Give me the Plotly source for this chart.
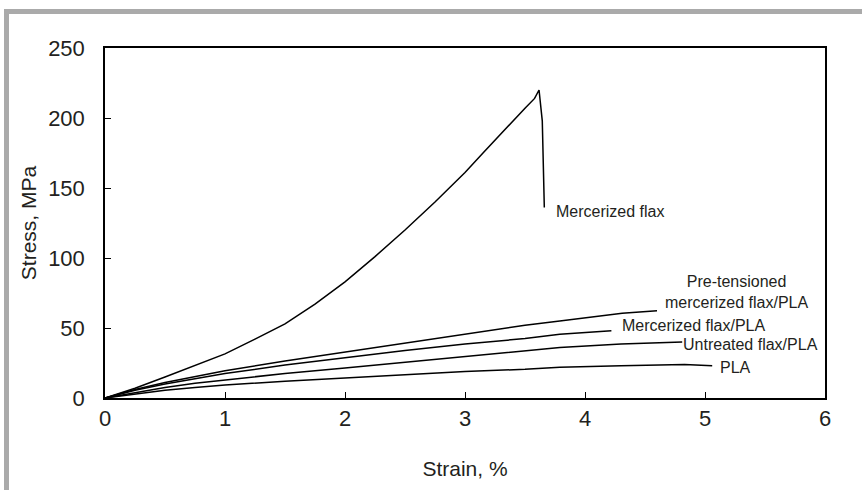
import plotly.graph_objects as go

# Mercerized flax
mf_strain = [0, 0.25, 0.5, 0.75, 1.0, 1.25, 1.5, 1.75, 2.0, 2.25, 2.5, 2.75, 3.0, 3.15, 3.29, 3.4, 3.5, 3.58, 3.617, 3.644, 3.661]
mf_stress = [0, 7, 15, 23, 31.5, 42, 53, 67, 83, 101, 120, 140, 161, 175, 188, 198, 207, 214, 220, 198, 136]

# Pre-tensioned mercerized flax/PLA
pt_strain = [0, 0.25, 0.5, 0.75, 1.0, 1.5, 2.0, 2.5, 3.0, 3.5, 3.79, 4.31, 4.6]
pt_stress = [0, 6, 11, 15.5, 19.5, 26.5, 33, 39.5, 46, 52, 55, 60.5, 62.4]

# Mercerized flax/PLA
mp_strain = [0, 0.25, 0.5, 0.75, 1.0, 1.5, 2.0, 2.5, 3.0, 3.5, 3.79, 4.22]
mp_stress = [0, 5.5, 10, 14, 17.5, 23.5, 29, 34, 38.5, 42.5, 45.5, 48]

# Untreated flax/PLA
up_strain = [0, 0.25, 0.5, 0.75, 1.0, 1.5, 2.0, 2.5, 3.0, 3.5, 3.79, 4.3, 4.81]
up_stress = [0, 4, 7.5, 10.5, 13, 17.5, 21.5, 25.5, 29.5, 33.5, 36, 38.5, 40]

# PLA
pla_strain = [0, 0.25, 0.5, 0.75, 1.0, 1.5, 2.0, 2.5, 3.0, 3.5, 3.79, 4.3, 4.83, 5.06]
pla_stress = [0, 3, 5.5, 7.5, 9.3, 12, 14.5, 17, 19, 20.5, 22, 23, 24, 23]

labels = ["Mercerized flax", "Pre-tensioned<br>mercerized flax/PLA", "Mercerized flax/PLA",
          "Untreated flax/PLA", "PLA"]
label_x = [3.74, 5.26, 4.9, 5.375, 5.254]
label_y = [133, 75.7, 51.6, 38.3, 21.9]
label_anchor = ["left", "center", "center", "center", "center"]

FONT = "Arial, Liberation Sans, sans-serif"
TXT = "#231f20"

fig = go.Figure()
for xs, ys in [(mf_strain, mf_stress), (pt_strain, pt_stress), (mp_strain, mp_stress),
               (up_strain, up_stress), (pla_strain, pla_stress)]:
    fig.add_trace(go.Scatter(x=xs, y=ys, mode="lines",
                             line=dict(color="black", width=1.5), showlegend=False,
                             hoverinfo="skip"))

for t, x, y, a in zip(labels, label_x, label_y, label_anchor):
    fig.add_annotation(x=x, y=y, text=t, showarrow=False, xanchor=a, yanchor="middle",
                       font=dict(family=FONT, size=16, color=TXT))

L, T, R, B = 105, 48, 37, 92
W, H = 862, 490
pw, ph = W - L - R, H - T - B

def px(xp):
    return (xp - L) / pw

def py(yp):
    return (H - B - yp) / ph

# gray frame (top and left edges visible)
fig.add_shape(type="line", xref="paper", yref="paper", x0=px(4), x1=px(870),
              y0=py(11.5), y1=py(11.5), line=dict(color="#aaaaaa", width=5))
fig.add_shape(type="line", xref="paper", yref="paper", x0=px(6.5), x1=px(6.5),
              y0=py(9), y1=py(500), line=dict(color="#aaaaaa", width=5))

fig.update_layout(
    width=W, height=H,
    margin=dict(l=L, r=R, t=T, b=B),
    paper_bgcolor="white", plot_bgcolor="white",
    font=dict(family=FONT, color=TXT),
    xaxis=dict(range=[0, 6], dtick=1, tick0=0, showgrid=False, zeroline=False,
               showline=True, linecolor="black", linewidth=1.5, mirror=True,
               ticks="inside", ticklen=6, tickcolor="black", tickwidth=1,
               tickfont=dict(size=22, family=FONT, color=TXT), ticklabelstandoff=0,
               title=dict(text="Strain, %", font=dict(size=21, family=FONT, color=TXT), standoff=31)),
    yaxis=dict(range=[0, 250], dtick=50, tick0=0, showgrid=False, zeroline=False,
               showline=True, linecolor="black", linewidth=1.5, mirror=True,
               ticks="inside", ticklen=6, tickcolor="black", tickwidth=1,
               tickfont=dict(size=22, family=FONT, color=TXT), ticklabelstandoff=14,
               title=dict(text="Stress, MPa", font=dict(size=21, family=FONT, color=TXT), standoff=6)),
)

fig.write_html("out.html", config={"displayModeBar": False},
               post_script="document.body.style.margin='0';document.body.style.overflow='hidden';")
